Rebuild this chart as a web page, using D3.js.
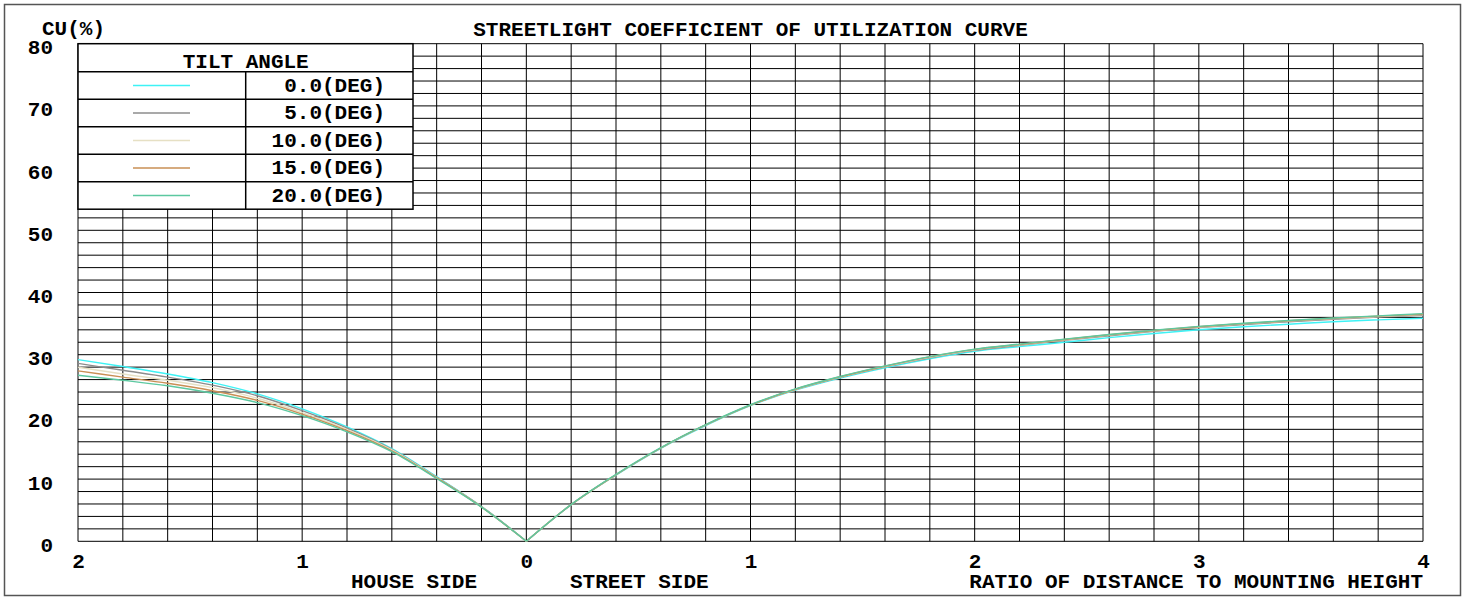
<!DOCTYPE html>
<html>
<head>
<meta charset="utf-8">
<script src="https://cdn.jsdelivr.net/npm/d3@7"></script>
<style>
  body { margin: 0; background: #fff; }
  svg text { font-family: "Courier New", "Liberation Mono", monospace; font-weight: bold; fill: #000; }
</style>
</head>
<body>
<div id="chart"></div>
<script>
// distances (ratio to mounting height) for each side
var houseX = [0, 0.2, 0.4, 0.6, 0.8, 1.0, 1.2, 1.4, 1.6, 1.8, 2.0];
var streetX = [0, 0.2, 0.4, 0.6, 0.8, 1.0, 1.2, 1.4, 1.6, 1.8, 2.0, 2.2, 2.4, 2.6, 2.8, 3.0, 3.2, 3.4, 3.6, 3.8, 4.0];

// tilt angles (legend)
var tiltLabels = ['0.0(DEG)', '5.0(DEG)', '10.0(DEG)', '15.0(DEG)', '20.0(DEG)'];
var tiltColors = ['#3ef2f5', '#8c8c8c', '#e6e0c4', '#c98f55', '#5cc8a0'];

// CU values, house side
var house0 = [0, 5.6, 10.4, 14.9, 18.4, 21.3, 23.7, 25.5, 26.9, 28.1, 29.2];
var house5 = [0, 5.6, 10.3, 14.8, 18.2, 21.0, 23.4, 25.1, 26.4, 27.5, 28.6];
var house10 = [0, 5.55, 10.25, 14.7, 18.0, 20.7, 23.0, 24.7, 25.9, 26.9, 28.0];
var house15 = [0, 5.5, 10.2, 14.55, 17.8, 20.45, 22.65, 24.2, 25.4, 26.4, 27.4];
var house20 = [0, 5.5, 10.1, 14.4, 17.6, 20.2, 22.3, 23.8, 25.0, 25.9, 26.7];

// CU values, street side
var street0 = [0, 5.9, 10.65, 14.95, 18.6, 21.8, 24.3, 26.25, 27.9, 29.35, 30.55, 31.3, 32.0, 32.75, 33.4, 34.0, 34.5, 34.9, 35.3, 35.6, 35.85];
var street5 = [0, 5.9, 10.7, 15.0, 18.7, 21.9, 24.4, 26.35, 28.05, 29.5, 30.7, 31.5, 32.3, 33.05, 33.75, 34.35, 34.85, 35.3, 35.7, 36.05, 36.35];
var street10 = [0, 5.9, 10.7, 15.0, 18.7, 21.9, 24.4, 26.4, 28.1, 29.6, 30.8, 31.6, 32.4, 33.15, 33.85, 34.45, 34.95, 35.4, 35.8, 36.15, 36.45];
var street15 = [0, 5.9, 10.7, 15.0, 18.7, 21.9, 24.45, 26.45, 28.15, 29.65, 30.85, 31.65, 32.45, 33.2, 33.9, 34.5, 35.0, 35.45, 35.85, 36.2, 36.5];
var street20 = [0, 5.9, 10.75, 15.05, 18.75, 21.95, 24.5, 26.5, 28.2, 29.7, 30.9, 31.7, 32.5, 33.25, 33.95, 34.55, 35.05, 35.5, 35.9, 36.25, 36.6];

// axis ticks
var xTicks = [-2, -1, 0, 1, 2, 3, 4];
var yTicks = [0, 10, 20, 30, 40, 50, 60, 70, 80];

var houseSeries = [house0, house5, house10, house15, house20];
var streetSeries = [street0, street5, street10, street15, street20];

var chartW = 1464;
var chartH = 599;
var plotLeft = 78, plotRight = 1423, plotTop = 43.7, plotBottom = 541.3;

var svg = d3.select('#chart').append('svg')
    .attr('width', chartW)
    .attr('height', chartH);

// outer frame
svg.append('rect')
    .attr('x', 4.5).attr('y', 4.5)
    .attr('width', 1456).attr('height', 591)
    .style('fill', 'none')
    .style('stroke', '#555')
    .style('stroke-width', 1.5);

var x = d3.scaleLinear().domain([-2, 4]).range([plotLeft, plotRight]);
var y = d3.scaleLinear().domain([0, 80]).range([plotBottom, plotTop]);

// grid, every 0.2 in x and 2% in y
var grid = svg.append('g');
grid.selectAll('line.v').data(d3.range(0, 31)).enter().append('line')
    .attr('x1', function(i) { return x(-2 + i * 0.2); })
    .attr('x2', function(i) { return x(-2 + i * 0.2); })
    .attr('y1', y(0)).attr('y2', y(80))
    .style('stroke', '#000').style('stroke-width', 1);
grid.selectAll('line.h').data(d3.range(0, 41)).enter().append('line')
    .attr('y1', function(i) { return y(i * 2); })
    .attr('y2', function(i) { return y(i * 2); })
    .attr('x1', x(-2)).attr('x2', x(4))
    .style('stroke', '#000').style('stroke-width', 1);

// curves
var line = d3.line()
    .x(function(d) { return x(d[0]); })
    .y(function(d) { return y(d[1]); })
    .curve(d3.curveMonotoneX);

var curves = svg.append('g');
tiltLabels.forEach(function(lbl, k) {
    var h = houseX.map(function(d, i) { return [-d, houseSeries[k][i]]; }).reverse();
    var s = streetX.map(function(d, i) { return [d, streetSeries[k][i]]; });
    [h, s].forEach(function(pts) {
        curves.append('path')
            .attr('d', line(pts))
            .style('fill', 'none')
            .style('stroke', tiltColors[k])
            .style('stroke-width', 1.4);
    });
});

// y axis labels
var yAxis = d3.axisLeft(y).tickValues(yTicks).tickSize(0).tickPadding(0);
var gy = svg.append('g').attr('transform', 'translate(53,0)').call(yAxis);
gy.select('.domain').remove();
gy.selectAll('text')
    .attr('dy', '10px')
    .style('font-size', '21px')
    .style('font-family', '"Courier New", "Liberation Mono", monospace')
    .style('font-weight', 'bold')
    .style('fill', '#000');

// x axis labels, distance shown on both sides
var xAxis = d3.axisBottom(x).tickValues(xTicks).tickSize(0).tickPadding(0)
    .tickFormat(function(d) { return Math.abs(d); });
var gx = svg.append('g').attr('transform', 'translate(0,552)').call(xAxis);
gx.select('.domain').remove();
gx.selectAll('text')
    .attr('dy', '16px')
    .style('font-size', '21px')
    .style('font-family', '"Courier New", "Liberation Mono", monospace')
    .style('font-weight', 'bold')
    .style('fill', '#000');

// titles
svg.append('text').attr('x', 42).attr('y', 35).style('font-size', '21px').text('CU(%)');
svg.append('text').attr('x', (plotLeft + plotRight) / 2).attr('y', 36).attr('text-anchor', 'middle')
    .style('font-size', '21px').text('STREETLIGHT COEFFICIENT OF UTILIZATION CURVE');
svg.append('text').attr('x', 477).attr('y', 588).attr('text-anchor', 'end')
    .style('font-size', '21px').text('HOUSE SIDE');
svg.append('text').attr('x', 570).attr('y', 588)
    .style('font-size', '21px').text('STREET SIDE');
svg.append('text').attr('x', plotRight).attr('y', 588).attr('text-anchor', 'end')
    .style('font-size', '21px').text('RATIO OF DISTANCE TO MOUNTING HEIGHT');

// legend table
var lgX = 78, lgW = 335, lgMid = 245.7, lgTop = 43.7, headH = 28, rowH = 27.5;
var lg = svg.append('g');
lg.append('rect')
    .attr('x', lgX).attr('y', lgTop)
    .attr('width', lgW).attr('height', headH + rowH * tiltLabels.length)
    .style('fill', '#fff').style('stroke', '#000').style('stroke-width', 1.5);
lg.append('text').attr('x', lgMid).attr('y', lgTop + 24).attr('text-anchor', 'middle')
    .style('font-size', '21px').text('TILT ANGLE');
lg.append('line')
    .attr('x1', lgMid).attr('x2', lgMid)
    .attr('y1', lgTop + headH).attr('y2', lgTop + headH + rowH * tiltLabels.length)
    .style('stroke', '#000').style('stroke-width', 1.5);
tiltLabels.forEach(function(lbl, k) {
    var ry = lgTop + headH + rowH * k;
    lg.append('line')
        .attr('x1', lgX).attr('x2', lgX + lgW)
        .attr('y1', ry).attr('y2', ry)
        .style('stroke', '#000').style('stroke-width', 1.5);
    lg.append('line')
        .attr('x1', 133).attr('x2', 190)
        .attr('y1', ry + rowH / 2).attr('y2', ry + rowH / 2)
        .style('stroke', tiltColors[k]).style('stroke-width', 1.4);
    lg.append('text').attr('x', 385).attr('y', ry + 20).attr('text-anchor', 'end')
        .style('font-size', '21px').text(lbl);
});
</script>
</body>
</html>
